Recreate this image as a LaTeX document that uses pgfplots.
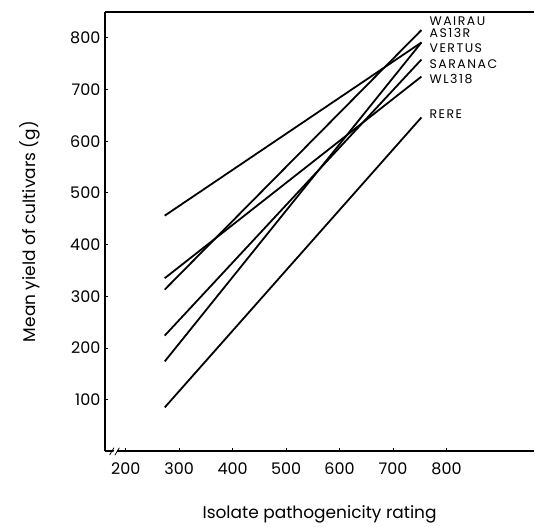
\documentclass[border=0pt]{standalone}
\usepackage{pgfplots}
\pgfplotsset{compat=1.18}
\usepackage{fontspec}
\setmainfont{Poppins}
\newfontfamily\labfont{Poppins}[LetterSpace=12]

\begin{document}
\begin{tikzpicture}
\begin{axis}[
    scale only axis,
    width=430pt, height=440pt,
    xmin=161, xmax=964,
    ymin=0, ymax=850,
    axis y line*=left,
    axis x line*=bottom,
    xtick={200,300,...,800},
    ytick={100,200,...,800},
    tick align=inside,
    major tick length=3pt,
    tick style={black, line width=0.8pt},
    axis line style={black, line width=1.5pt},
    ticklabel style={font=\fontsize{16}{16}\selectfont},
    /pgf/number format/assume math mode=true,
    /pgf/number format/1000 sep={},
    xticklabel style={yshift=-8pt},
    yticklabel style={xshift=-1pt},
    xlabel={Isolate pathogenicity rating},
    ylabel={Mean yield of cultivars (g)},
    xlabel style={at={(axis description cs:0.5,-0.143)}, anchor=center, font=\fontsize{17}{17}\selectfont},
    ylabel style={at={(axis description cs:-0.175,0.5)}, anchor=center, font=\fontsize{17}{17}\selectfont},
    no markers,
    clip=false,
]
% WAIRAU
\addplot[black, line width=1.8pt] coordinates {(273,313) (753,815)};
% AS13R
\addplot[black, line width=1.8pt] coordinates {(273,456) (753,791)};
% VERTUS
\addplot[black, line width=1.8pt] coordinates {(273,174) (753,791)};
% SARANAC
\addplot[black, line width=1.8pt] coordinates {(273,224) (753,758)};
% WL318
\addplot[black, line width=1.8pt] coordinates {(273,335) (753,725)};
% RERE
\addplot[black, line width=1.8pt] coordinates {(273,85) (753,646)};

\begin{scope}[every node/.style={anchor=west, inner sep=0pt, font=\labfont\fontsize{12.5}{12.5}\selectfont}]
\node at (axis cs:768,832) {WAIRAU};
\node at (axis cs:768,810) {AS13R};
\node at (axis cs:768,780) {VERTUS};
\node at (axis cs:768,749) {SARANAC};
\node at (axis cs:768,721) {WL318};
\node at (axis cs:768,652) {RERE};
\end{scope}

% frame lines
\draw[line width=1.5pt] (axis cs:161,850) -- (axis cs:964,850);
\fill[black] ([yshift=-0.9pt]rel axis cs:0,0) rectangle ([yshift=0.9pt]rel axis cs:1,0);
% axis break
\fill[white] (axis cs:174,-6) -- (axis cs:181,6) -- (axis cs:187,6) -- (axis cs:180,-6) -- cycle;
\draw[line width=0.8pt] (axis cs:170,-7) -- (axis cs:178,7);
\draw[line width=0.8pt] (axis cs:180,-7) -- (axis cs:188,7);
\end{axis}
\useasboundingbox (current axis.south west) ++(-105pt,-73pt) rectangle ([yshift=12pt]current axis.north east);
\end{tikzpicture}
\end{document}
